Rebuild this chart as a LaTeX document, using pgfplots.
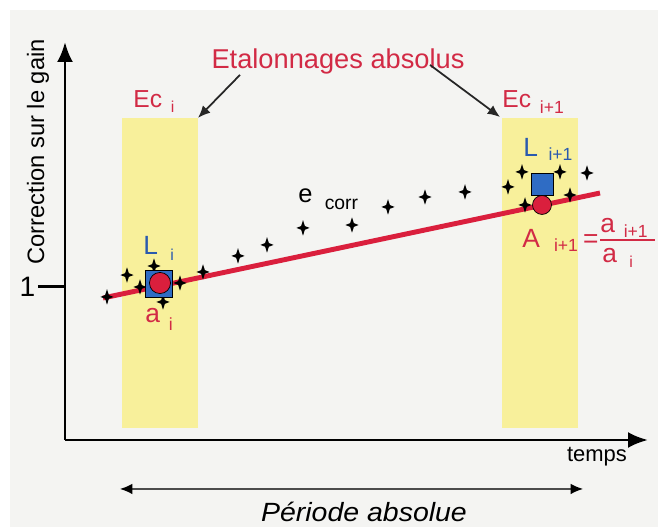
\documentclass[border=0pt]{standalone}
\usepackage{fontspec}
\setmainfont{Liberation Sans}
\usepackage{pgfplots}
\pgfplotsset{compat=1.18}
\usetikzlibrary{arrows.meta}

\definecolor{bgc}{HTML}{F4F4F2}
\definecolor{band}{HTML}{F8F09B}
\definecolor{ered}{HTML}{D22A45}
\definecolor{lred}{HTML}{DA1F3D}
\definecolor{sqblue}{HTML}{2F6CC4}
\definecolor{tblue}{HTML}{2A5AAE}
\newcommand\fs[1]{\fontsize{#1}{#1}\selectfont}

% 4-pointed cross used for the e_corr measurements
\pgfdeclareplotmark{star4}{%
  \pgfpathmoveto{\pgfqpoint{0pt}{\pgfplotmarksize}}%
  \pgfpathlineto{\pgfqpoint{0.24\pgfplotmarksize}{0.24\pgfplotmarksize}}%
  \pgfpathlineto{\pgfqpoint{0.85\pgfplotmarksize}{0pt}}%
  \pgfpathlineto{\pgfqpoint{0.24\pgfplotmarksize}{-0.24\pgfplotmarksize}}%
  \pgfpathlineto{\pgfqpoint{0pt}{-\pgfplotmarksize}}%
  \pgfpathlineto{\pgfqpoint{-0.24\pgfplotmarksize}{-0.24\pgfplotmarksize}}%
  \pgfpathlineto{\pgfqpoint{-0.85\pgfplotmarksize}{0pt}}%
  \pgfpathlineto{\pgfqpoint{-0.24\pgfplotmarksize}{0.24\pgfplotmarksize}}%
  \pgfpathclose
  \pgfusepathqfill
}

\begin{document}
\begin{tikzpicture}
% page background
\fill[white] (-1.3cm,-1.74cm) rectangle (11.86cm,8.8cm);
\fill[bgc] (-1.1cm,-1.74cm) rectangle (11.86cm,8.6cm);

\begin{axis}[
    scale only axis,
    width=11.66cm, height=7.96cm,
    xmin=0, xmax=583, ymin=0, ymax=2.601,
    axis lines=left,
    axis line style={line width=1.7pt, -{Latex[length=0.4cm,width=0.32cm]}},
    xtick=\empty,
    ytick={1}, yticklabels={1},
    /pgf/number format/assume math mode=true,
    yticklabel style={font=\fs{16}, xshift=2pt},
    tick align=outside,
    major tick length=0.54cm,
    tick style={line width=1.7pt, black},
    clip=false,
]

% calibration windows
\addplot[fill=band, draw=none] coordinates {(57,0.078) (133,0.078) (133,2.105) (57,2.105)} -- cycle;
\addplot[fill=band, draw=none] coordinates {(437,0.078) (513,0.078) (513,2.105) (437,2.105)} -- cycle;

% e_corr
\addplot[only marks, mark=star4, mark size=4.4pt, mark options={fill=black}] coordinates {
    (42,0.935) (62,1.078) (75,1.000) (89,1.137) (98,0.902) (115,1.026)
    (138,1.098) (173,1.203) (202,1.275) (238,1.386) (287,1.405) (323,1.523)
    (360,1.588) (400,1.621) (443,1.654) (457,1.752) (460,1.536) (495,1.752)
    (505,1.601) (522,1.745)
};

% absolute calibration trend
\addplot[lred, line width=2.8pt] coordinates {(38,0.928) (535,1.614)};

% L_i and L_i+1
\addplot[only marks, mark=square*, mark size=7.6pt, mark options={fill=sqblue, draw=none}] coordinates {(93.5,1.020)};
\addplot[only marks, mark=square*, mark size=6.2pt, mark options={fill=sqblue, draw=none}] coordinates {(477,1.673)};
% a_i and a_i+1
\addplot[only marks, mark=*, mark size=6pt, mark options={fill=lred, draw=none}] coordinates {(95,1.026)};
\addplot[only marks, mark=*, mark size=5.4pt, mark options={fill=lred, draw=none}] coordinates {(477,1.536)};

% labels
\node[rotate=90, font=\fs{13.5}] at (axis cs:-27,1.882) {Correction sur le gain};
\node[ered, font=\fs{15.5}] at (axis cs:273,2.471) {Etalonnages absolus};
\draw[-{Latex[length=7pt,width=6pt]}, line width=1pt, black!85] (axis cs:175,2.386) -- (axis cs:133,2.105);
\draw[-{Latex[length=7pt,width=6pt]}, line width=1pt, black!85] (axis cs:365,2.451) -- (axis cs:435,2.111);

\node[ered, anchor=base west, inner sep=0pt, font=\fs{14}] at (axis cs:68,2.176)
    {Ec\hspace{5pt}\raisebox{-3pt}{\fs{9}i}};
\node[ered, anchor=base west, inner sep=0pt, font=\fs{14}] at (axis cs:437,2.176)
    {Ec\hspace{5pt}\raisebox{-3.4pt}{\fs{10}i+1}};

\node[tblue, anchor=base west, inner sep=0pt, font=\fs{15}] at (axis cs:78,1.209)
    {L\hspace{7pt}\raisebox{-3pt}{\fs{9}i}};
\node[tblue, anchor=base west, inner sep=0pt, font=\fs{15}] at (axis cs:458,1.850)
    {L\hspace{6pt}\raisebox{-2pt}{\fs{10}i+1}};

\node[ered, anchor=base west, inner sep=0pt, font=\fs{15}] at (axis cs:80,0.765)
    {a\hspace{5pt}\raisebox{-4.5pt}{\fs{10}i}};
\node[anchor=base west, inner sep=0pt, font=\fs{14.5}] at (axis cs:233,1.549)
    {e\hspace{7pt}\raisebox{-4pt}{\fs{11}corr}};

\node[ered, anchor=base west, inner sep=0pt, font=\fs{15}] at (axis cs:457,1.255)
    {A\hspace{8pt}\raisebox{-2.3pt}{\fs{10}i+1}\hspace{3pt}=};
\node[ered, anchor=base west, inner sep=0pt, font=\fs{15}] at (axis cs:535,1.353)
    {a\hspace{5pt}\raisebox{-2.5pt}{\fs{10}i+1}};
\draw[ered, line width=0.6pt] (axis cs:535,1.307) -- (axis cs:590,1.307);
\node[ered, anchor=base west, inner sep=0pt, font=\fs{15}] at (axis cs:537,1.157)
    {a\hspace{7pt}\raisebox{-2.5pt}{\fs{9}i}};

\node[font=\fs{12.5}] at (axis cs:532,-0.111) {temps};

% absolute period
\draw[gray!60!black, line width=0.8pt, {Latex[black,length=7pt,width=6pt]}-{Latex[black,length=7pt,width=6pt]}]
    (axis cs:55,-0.320) -- (axis cs:518,-0.320);
\node[font=\fs{15}\itshape, xscale=1.08] at (axis cs:299,-0.471) {Période absolue};
\end{axis}

\pgfresetboundingbox
\useasboundingbox (-1.3cm,-1.74cm) rectangle (11.86cm,8.8cm);
\end{tikzpicture}
\end{document}
